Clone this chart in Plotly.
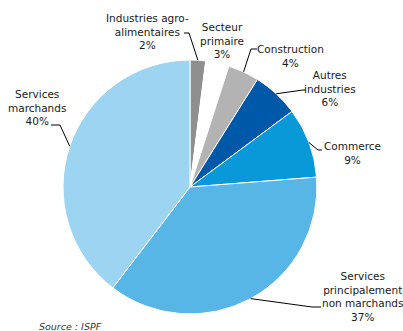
import math
import plotly.graph_objects as go

# ---- data ----
labels = ["Industries agro-alimentaires", "Secteur primaire", "Construction",
          "Autres industries", "Commerce", "Services principalement non marchands",
          "Services marchands"]
label_texts = ["Industries agro-<br>alimentaires", "Secteur<br>primaire", "Construction",
               "Autres<br>industries", "Commerce", "Services<br>principalement<br>non marchands",
               "Services<br>marchands"]
values = [2, 3, 4, 6, 9, 37, 40]
colors = ["#8f8f8f", "#ffffff", "#b3b3b3", "#0058a8", "#0a99d8", "#58b6e7", "#9dd4f2"]

# ---- layout geometry (pixels) ----
W, H = 403, 331
CX, CY, R = 190, 187, 127
# label centre positions (px)
label_pos = [(147, 32), (222, 41), (290, 56), (330, 88), (352, 153), (362, 296), (37, 108)]
# leader elbows and ends (px); None = no leader
leaders = [((189, 33), (184, 33)), None, ((251, 49), (257, 49)), ((303, 90), (306, 90)),
           ((318, 150), (322, 150)), ((312, 307), (321, 307)), ((60, 125), (51, 125))]

def px2paper(x, y):
    return x / W, 1 - y / H

fig = go.Figure(go.Pie(
    labels=labels, values=values, sort=False, direction="clockwise", rotation=0,
    marker=dict(colors=colors, line=dict(color="#ffffff", width=1)),
    textinfo="none", hoverinfo="label+percent", showlegend=False,
    domain=dict(x=[(CX - R) / W, (CX + R) / W], y=[1 - (CY + R) / H, 1 - (CY - R) / H]),
))

total = sum(values)
cum = 0
annotations = []
shapes = []
for i, v in enumerate(values):
    frac = v / total
    mid = (cum + frac / 2) * 2 * math.pi
    cum += frac
    pct = round(v)
    lx, ly = px2paper(*label_pos[i])
    annotations.append(dict(
        x=lx, y=ly, xref="paper", yref="paper", showarrow=False,
        text=f"{label_texts[i]}<br>{pct}%", align="center",
        font=dict(family="DejaVu Sans", size=10.5, color="#1a1a1a"),
        xanchor="center", yanchor="middle"))
    if leaders[i] is not None:
        ex, ey = CX + R * math.sin(mid), CY - R * math.cos(mid)
        (bx, by), (tx, ty) = leaders[i]
        p0 = px2paper(ex, ey); p1 = px2paper(bx, by); p2 = px2paper(tx, ty)
        shapes.append(dict(type="path", xref="paper", yref="paper",
                           path=f"M {p0[0]} {p0[1]} L {p1[0]} {p1[1]} L {p2[0]} {p2[1]}",
                           line=dict(color="#000000", width=1)))

annotations.append(dict(x=37 / W, y=1 - 326 / H, xref="paper", yref="paper", showarrow=False,
                        text="<i>Source : ISPF</i>", xanchor="left", yanchor="middle",
                        font=dict(family="DejaVu Sans", size=9.5, color="#333333")))

fig.update_layout(width=W, height=H, margin=dict(l=0, r=0, t=0, b=0),
                  paper_bgcolor="#ffffff", plot_bgcolor="#ffffff",
                  annotations=annotations, shapes=shapes)
fig.write_html("out.html")
